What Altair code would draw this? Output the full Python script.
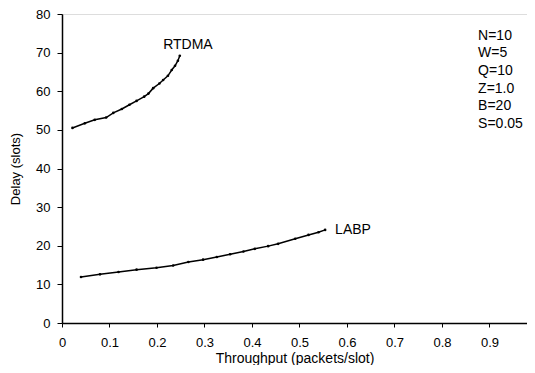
import altair as alt
import pandas as pd

# RTDMA series (throughput, delay)
rtdma_x = [0.022, 0.048, 0.069, 0.093, 0.108, 0.126, 0.142, 0.157, 0.173, 0.182,
           0.192, 0.205, 0.213, 0.223, 0.231, 0.238, 0.244, 0.248]
rtdma_y = [50.5, 51.7, 52.6, 53.2, 54.4, 55.4, 56.5, 57.5, 58.6, 59.4,
           60.8, 62.0, 62.9, 64.0, 65.5, 66.6, 67.9, 69.2]

# LABP series (throughput, delay)
labp_x = [0.040, 0.080, 0.119, 0.157, 0.199, 0.234, 0.266, 0.297, 0.326, 0.354,
          0.382, 0.406, 0.434, 0.455, 0.491, 0.519, 0.540, 0.554]
labp_y = [11.9, 12.6, 13.2, 13.8, 14.3, 14.9, 15.8, 16.4, 17.1, 17.8,
          18.5, 19.2, 19.9, 20.5, 21.8, 22.8, 23.5, 24.1]

x_ticks = [0, 0.1, 0.2, 0.3, 0.4, 0.5, 0.6, 0.7, 0.8, 0.9, 1]
y_ticks = [0, 10, 20, 30, 40, 50, 60, 70, 80]

params_text = "N=10\nW=5\nQ=10\nZ=1.0\nB=20\nS=0.05"

series = pd.DataFrame(
    {"x": rtdma_x + labp_x,
     "y": rtdma_y + labp_y,
     "s": ["RTDMA"] * len(rtdma_x) + ["LABP"] * len(labp_x)}
)

labels = pd.DataFrame({"x": [0.213, 0.575], "y": [72.0, 24.0], "t": ["RTDMA", "LABP"]})
params = pd.DataFrame({"x": [0.876], "y": [76.2], "t": [params_text]})

FONT = "Liberation Sans"

# the visible part of the 0..1 throughput axis (the original is cut at the right edge)
xs = alt.Scale(domain=[0, 0.979], nice=False, zero=False)
ys = alt.Scale(domain=[0, 80], nice=False)

xaxis = alt.Axis(values=x_ticks, format="~g", grid=False, title="Throughput (packets/slot)",
                 labelFontSize=13, titleFontSize=14, labelFont=FONT, titleFont=FONT,
                 labelColor="black", titleColor="black", titleFontWeight="normal",
                 domainColor="black", domainWidth=1.5, tickColor="black", tickSize=4,
                 labelPadding=9, titlePadding=2, labelFlush=False, labelOverlap=False)
yaxis = alt.Axis(values=y_ticks, grid=False, title="Delay (slots)",
                 labelFontSize=13, titleFontSize=13, labelFont=FONT, titleFont=FONT,
                 labelColor="black", titleColor="black", titleFontWeight="normal",
                 domainColor="black", domainWidth=1.5, tickColor="black", tickSize=5,
                 labelPadding=7, titlePadding=13, labelOverlap=False)

X = alt.X("x:Q", scale=xs, axis=xaxis)
Y = alt.Y("y:Q", scale=ys, axis=yaxis)

lines = alt.Chart(series).mark_line(
    color="black", strokeWidth=1.5,
    point=alt.OverlayMarkDef(filled=True, color="black", size=7)
).encode(x=X, y=Y, detail="s:N")

lbl = alt.Chart(labels).mark_text(
    align="left", baseline="middle", font=FONT, fontSize=14, color="black"
).encode(x=X, y=Y, text="t:N")

par = alt.Chart(params).mark_text(
    align="left", baseline="top", font=FONT, fontSize=14, color="black",
    lineBreak="\n", lineHeight=17.7
).encode(x=X, y=Y, text="t:N")

chart = alt.layer(lines, lbl, par).properties(
    width=465, height=309,
    autosize=alt.AutoSizeParams(type="none"),
    padding={"left": 54, "top": 6, "right": 0, "bottom": 42},
).configure_view(stroke="black", strokeWidth=1.5).configure(background="white")

chart.save("out.html", embed_options={"renderer": "svg", "actions": False})
